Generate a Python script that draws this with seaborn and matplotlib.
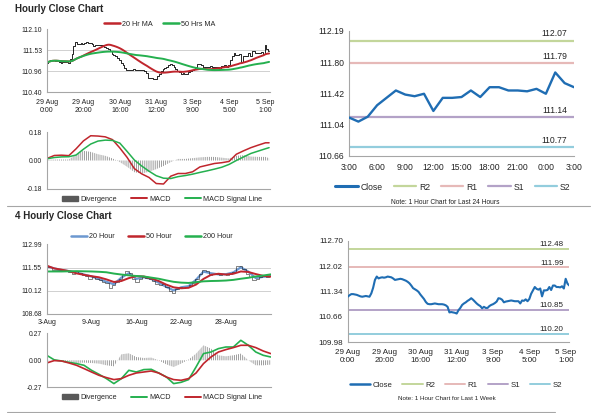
import numpy as np
import pandas as pd
import matplotlib
matplotlib.use("Agg")
import matplotlib.pyplot as plt
import matplotlib.transforms as mtransforms
import seaborn as sns
from matplotlib.lines import Line2D
from matplotlib.patches import Patch
from matplotlib import font_manager

# ---------------- DATA ----------------
# Hourly close, 29 Aug 0:00 -> 5 Sep 3:00 (123 trading hours)
close_1h = [
    111.20, 111.24, 111.27, 111.27, 111.26, 111.25, 111.23, 111.21, 111.20, 111.21,
    111.22, 111.21, 111.20, 111.29, 111.44, 111.65, 111.74, 111.69, 111.71, 111.72,
    111.71, 111.72, 111.74, 111.73, 111.72, 111.69, 111.65, 111.66, 111.67, 111.68,
    111.67, 111.65, 111.63, 111.60, 111.56, 111.50, 111.43, 111.40, 111.37, 111.33,
    111.26, 111.20, 111.14, 111.06, 111.01, 111.00, 111.00, 111.01, 111.02, 111.01,
    111.00, 111.00, 111.00, 110.99, 110.97, 110.93, 110.78, 110.79, 110.78, 110.77,
    110.75, 110.84, 110.90, 110.98, 111.02, 111.05, 111.09, 111.12, 111.16, 111.12,
    111.07, 111.02, 110.98, 110.95, 110.89, 110.93, 110.90, 110.90, 110.95, 110.98,
    111.00, 111.03, 111.07, 111.16, 111.15, 111.12, 111.05, 111.07, 111.08, 111.09,
    111.10, 111.09, 111.08, 111.08, 111.08, 111.02, 111.10, 111.09,
    # last 24 hours (4 Sep 3:00 -> 5 Sep 3:00)
    111.13, 111.08, 111.14, 111.28, 111.37, 111.46, 111.41, 111.39, 111.42, 111.21,
    111.37, 111.37, 111.38, 111.46, 111.38, 111.50, 111.50, 111.46, 111.46, 111.45,
    111.48, 111.42, 111.68, 111.55, 111.50,
]
week_tick_labels = ["29 Aug\n0:00", "29 Aug\n20:00", "30 Aug\n16:00", "31 Aug\n12:00",
                    "3 Sep\n9:00", "4 Sep\n5:00", "5 Sep\n1:00"]
day_tick_labels = ["3:00", "6:00", "9:00", "12:00", "15:00", "18:00", "21:00", "0:00", "3:00"]

# Hourly MACD read every 4 hours
macd_hours = list(range(0, 121, 4)) + [122]
macd_1h = [0.013, 0.032, 0.034, 0.031, 0.075, 0.125, 0.158, 0.156, 0.151, 0.133,
           0.080, 0.020, -0.052, -0.085, -0.108, -0.147, -0.150, -0.100, -0.083, -0.083,
           -0.072, -0.041, -0.030, -0.019, -0.014, -0.006, 0.040, 0.062, 0.082, 0.098,
           0.113, 0.113]
sig_1h = [0.011, 0.019, 0.023, 0.024, 0.035, 0.072, 0.105, 0.124, 0.130, 0.128,
          0.111, 0.058, 0.003, -0.035, -0.068, -0.097, -0.113, -0.115, -0.103, -0.096,
          -0.087, -0.076, -0.066, -0.055, -0.043, -0.025, 0.000, 0.023, 0.045, 0.060,
          0.075, 0.082]
div_1h = [0.004, 0.006, 0.006, 0.006, 0.040, 0.062, 0.055, 0.040, 0.030, 0.013,
          -0.010, -0.040, -0.075, -0.083, -0.072, -0.055, -0.035, -0.010, 0.010, 0.010,
          0.015, 0.020, 0.023, 0.023, 0.018, 0.013, 0.030, 0.034, 0.025, 0.023,
          0.023, 0.015]

# Pivot levels
level_names = ["R2", "R1", "S1", "S2"]
level_colors = ["#c3d69b", "#e6b9b8", "#b3a2c7", "#93cddd"]
levels_24h = [112.07, 111.79, 111.14, 110.77]
levels_week = [112.48, 111.99, 110.85, 110.20]

# y ticks
yt_1h_price = [110.40, 110.96, 111.53, 112.10]
yt_1h_macd = [-0.18, 0.00, 0.18]
yt_24h = [110.66, 111.04, 111.42, 111.80, 112.19]
yt_week = [109.98, 110.66, 111.34, 112.02, 112.70]
yt_4h_price = [108.68, 110.12, 111.55, 112.99]
yt_4h_macd = [-0.27, 0.00, 0.27]

# 4-hourly chart (150 bars)
close_4h = [
    111.67, 111.61, 111.43, 111.37, 111.37, 111.33, 111.31, 111.27, 111.17, 111.31,
    111.23, 111.07, 111.01, 110.87, 110.97, 110.87, 110.76, 110.66, 110.62, 110.30,
    110.46, 110.66, 110.87, 111.17, 111.31, 111.23, 110.87, 110.66, 110.87, 110.97,
    110.91, 110.87, 110.70, 110.56, 110.50, 110.56, 110.36, 110.10, 110.00, 110.22,
    110.36, 110.30, 110.36, 110.46, 110.62, 110.87, 111.17, 111.37, 111.31, 111.11,
    111.17, 111.13, 111.11, 111.17, 111.11, 111.17, 111.27, 111.67, 111.63, 111.47,
    111.17, 110.97, 110.76, 110.87, 110.97, 111.03, 110.97, 111.01,
]
bars5 = list(range(0, 151, 5))
ma20_4h = [111.63, 111.50, 111.40, 111.33, 111.25, 111.12, 111.00, 110.85, 110.67, 110.52,
           110.93, 111.20, 110.85, 110.95, 110.85, 110.62, 110.36, 110.14, 110.33, 110.40,
           110.80, 111.30, 111.20, 111.13, 111.14, 111.25, 111.57, 111.30, 110.90, 110.98, 111.03]
ma50_4h = [111.67, 111.50, 111.42, 111.33, 111.19, 111.10, 111.02, 110.95, 110.82, 110.66,
           110.72, 110.90, 111.02, 111.00, 110.88, 110.72, 110.50, 110.33, 110.27, 110.30,
           110.50, 110.85, 111.10, 111.17, 111.12, 111.17, 111.31, 111.28, 111.15, 111.04, 110.99]
ma200_4h = [111.31, 111.31, 111.31, 111.32, 111.33, 111.32, 111.31, 111.29, 111.26, 111.18,
            111.12, 111.07, 111.03, 111.00, 110.93, 110.86, 110.76, 110.67, 110.62, 110.60,
            110.65, 110.70, 110.72, 110.73, 110.75, 110.79, 110.86, 110.92, 111.00, 111.06, 111.13]
macd_4h = [0.050, 0.005, -0.007, -0.020, -0.033, -0.050, -0.100, -0.140, -0.183, -0.233,
           -0.183, -0.100, -0.117, -0.093, -0.090, -0.127, -0.165, -0.233, -0.220, -0.193,
           -0.067, 0.067, 0.083, 0.117, 0.133, 0.133, 0.200, 0.150, 0.083, 0.050, 0.033]
signal_4h = [-0.027, -0.003, -0.007, -0.027, -0.050, -0.083, -0.117, -0.150, -0.173, -0.193,
             -0.183, -0.150, -0.127, -0.117, -0.107, -0.127, -0.167, -0.193, -0.200, -0.183,
             -0.127, -0.033, 0.033, 0.083, 0.107, 0.127, 0.150, 0.150, 0.127, 0.093, 0.067]
div_4h = [0.005, 0.000, -0.005, -0.010, -0.027, -0.023, -0.027, -0.033, -0.050, -0.060,
          0.060, 0.070, 0.033, 0.023, 0.027, 0.000, -0.040, -0.067, -0.033, 0.007,
          0.067, 0.150, 0.117, 0.050, 0.040, 0.050, 0.067, 0.000, -0.050, -0.050, -0.043]
tick_4h = [0, 30, 60, 90, 120, 150]
tick_4h_labels = ["3-Aug", "9-Aug", "16-Aug", "22-Aug", "28-Aug", ""]

# ---------------- DERIVED ----------------
s1h = pd.Series(close_1h)
hours = np.arange(len(close_1h))
ma20_1h = s1h.rolling(20, min_periods=1).mean()
ma50_1h = s1h.rolling(50, min_periods=1).mean()
last24 = close_1h[-25:]
h24 = np.arange(len(last24))
x4 = np.linspace(0, 150, len(close_4h))

# ---------------- STYLE ----------------
sns.set_style("white")
names = {f.name for f in font_manager.fontManager.ttflist}
NARROW = "Liberation Sans Narrow" if "Liberation Sans Narrow" in names else "Liberation Sans"
plt.rcParams["font.family"] = ["Liberation Sans", "DejaVu Sans"]
plt.rcParams["hatch.linewidth"] = 0.6

W, H = 600, 413
fig = plt.figure(figsize=(6, 4.13), dpi=100)
fig.patch.set_facecolor("white")
AXC = "#a6a6a6"
RED = "#c0262d"
GREEN = "#25b04f"
BLUE4 = "#6c98d0"
CLOSE_BLUE = "#1f6db3"
DIVC = "#8c8c8c"


def add_ax(x0, x1, y0, y1):
    return fig.add_axes([x0 / W, 1 - y1 / H, (x1 - x0) / W, (y1 - y0) / H])


def style(ax, fsy, fsx=None, family=None, xpad=1.5):
    for s in ["top", "right"]:
        ax.spines[s].set_visible(False)
    for s in ["left", "bottom"]:
        ax.spines[s].set_color(AXC)
        ax.spines[s].set_linewidth(0.8)
    ax.tick_params(axis="both", length=2, width=0.6, color=AXC, labelcolor="#222222")
    ax.tick_params(axis="y", labelsize=fsy, pad=1.5)
    ax.tick_params(axis="x", labelsize=fsx if fsx else fsy, pad=xpad)
    ax.set_xlabel("")
    ax.set_ylabel("")
    if family:
        for lab in ax.get_xticklabels() + ax.get_yticklabels():
            lab.set_family(family)
    ax.set_facecolor("white")


def legend_at(handles, labels, cx, cy, fs, family="Liberation Sans", colsp=2.0, hl=2.2):
    fig.legend(handles, labels, loc="center", bbox_to_anchor=(cx / W, 1 - cy / H),
               ncol=len(handles), frameon=False, prop={"family": family, "size": fs},
               handlelength=hl, handletextpad=0.3, columnspacing=colsp, borderpad=0,
               borderaxespad=0)


def inner_grid(ax, ticks):
    for t in ticks[1:-1]:
        ax.axhline(t, color="#c9c9c9", lw=0.6, zorder=0)


# ---------- Panel 1: Hourly close ----------
a1 = add_ax(47, 270, 29, 92.3)
sns.lineplot(x=hours, y=close_1h, ax=a1, color="black", lw=0.6, drawstyle="steps-mid")
sns.lineplot(x=hours, y=ma20_1h, ax=a1, color=RED, lw=1.4)
sns.lineplot(x=hours, y=ma50_1h, ax=a1, color=GREEN, lw=1.4)
a1.set_xlim(0, 122.5)
a1.set_ylim(yt_1h_price[0], yt_1h_price[-1])
a1.set_yticks(yt_1h_price, [f"{v:.2f}" for v in yt_1h_price])
a1.set_xticks(range(0, 121, 20), week_tick_labels)
inner_grid(a1, yt_1h_price)
style(a1, 4.9, 5.0, xpad=2.5)
legend_at([Line2D([], [], color=RED, lw=1.8), Line2D([], [], color=GREEN, lw=1.8)],
          ["20 Hr MA", "50 Hrs MA"], 160, 24, 5.2, colsp=1.4)
fig.text(15 / W, 1 - 9 / H, "Hourly Close Chart", fontsize=7, weight="bold", va="center")

# ---------- Panel 2: Hourly MACD ----------
a2 = add_ax(47, 270, 132.3, 188.7)
a2.fill_between(macd_hours, 0, div_1h, facecolor="none", edgecolor=DIVC, hatch="|" * 8, linewidth=0)
sns.lineplot(x=macd_hours, y=macd_1h, ax=a2, color=RED, lw=1.1)
sns.lineplot(x=macd_hours, y=sig_1h, ax=a2, color=GREEN, lw=1.1)
a2.set_xlim(0, 122.5)
a2.set_ylim(yt_1h_macd[0], yt_1h_macd[-1])
a2.set_yticks(yt_1h_macd, [f"{v:.2f}" for v in yt_1h_macd])
a2.set_xticks([])
style(a2, 4.9)
legend_at([Patch(color="#595959"), Line2D([], [], color=RED, lw=1.4), Line2D([], [], color=GREEN, lw=1.4)],
          ["Divergence", "MACD", "MACD Signal Line"], 162, 199.3, 5.2, colsp=2.0)

# ---------- Panel 3: last 24 hours ----------
a3 = add_ax(349, 574, 30.7, 156)
for lv, c in zip(levels_24h, level_colors):
    a3.axhline(lv, color=c, lw=1.6, zorder=1)
sns.lineplot(x=h24, y=last24, ax=a3, color=CLOSE_BLUE, lw=1.7, zorder=3)
a3.set_xlim(0, 24)
a3.set_ylim(yt_24h[0], yt_24h[-1])
a3.set_yticks(yt_24h, [f"{v:.2f}" for v in yt_24h])
a3.set_xticks(range(0, 25, 3), day_tick_labels)
style(a3, 6.2, 6.2, family=NARROW, xpad=3)
tr3 = mtransforms.blended_transform_factory(a3.transAxes, a3.transData)
for lv in levels_24h:
    a3.annotate(f"{lv:.2f}", (0.97, lv), xycoords=tr3, xytext=(0, 1.5), textcoords="offset points",
                ha="right", va="bottom", fontsize=6.2, family=NARROW, color="#222222")
legend_at([Line2D([], [], color=CLOSE_BLUE, lw=2.2)] + [Line2D([], [], color=c, lw=1.6) for c in level_colors],
          ["Close"] + level_names, 453, 187, 6.2, family=NARROW, colsp=1.3, hl=2.6)
fig.text(445 / W, 1 - 202 / H, "Note: 1 Hour Chart for Last 24 Hours", fontsize=4.8,
         family=NARROW, ha="center", va="center", color="#222222")

# ---------- Panel 4: 4-hourly close ----------
a4 = add_ax(46.7, 270.7, 244.3, 314)
sns.lineplot(x=bars5, y=ma20_4h, ax=a4, color=BLUE4, lw=1.6)
sns.lineplot(x=x4, y=close_4h, ax=a4, color="black", lw=0.4, alpha=0.85, drawstyle="steps-mid")
sns.lineplot(x=bars5, y=ma50_4h, ax=a4, color=RED, lw=1.4)
sns.lineplot(x=bars5, y=ma200_4h, ax=a4, color=GREEN, lw=1.4)
a4.set_xlim(0, 150)
a4.set_ylim(yt_4h_price[0], yt_4h_price[-1])
a4.set_yticks(yt_4h_price, [f"{v:.2f}" for v in yt_4h_price])
a4.set_xticks(tick_4h, tick_4h_labels)
inner_grid(a4, yt_4h_price)
style(a4, 4.9, 5.0, xpad=1.5)
legend_at([Line2D([], [], color=BLUE4, lw=1.8), Line2D([], [], color=RED, lw=1.8),
           Line2D([], [], color=GREEN, lw=1.8)],
          ["20 Hour", "50 Hour", "200 Hour"], 152, 236.7, 5.2, colsp=1.8)
fig.text(15 / W, 1 - 216 / H, "4 Hourly Close Chart", fontsize=7, weight="bold", va="center")

# ---------- Panel 5: 4-hourly MACD ----------
a5 = add_ax(46.7, 270.7, 333.3, 387.3)
a5.fill_between(bars5, 0, div_4h, facecolor="none", edgecolor=DIVC, hatch="|" * 8, linewidth=0)
sns.lineplot(x=bars5, y=macd_4h, ax=a5, color=GREEN, lw=1.2)
sns.lineplot(x=bars5, y=signal_4h, ax=a5, color=RED, lw=1.2)
a5.set_xlim(0, 150)
a5.set_ylim(yt_4h_macd[0], yt_4h_macd[-1])
a5.set_yticks(yt_4h_macd, [f"{v:.2f}" for v in yt_4h_macd])
a5.set_xticks([])
style(a5, 4.9)
legend_at([Patch(color="#595959"), Line2D([], [], color=GREEN, lw=1.4), Line2D([], [], color=RED, lw=1.4)],
          ["Divergence", "MACD", "MACD Signal Line"], 162, 397.7, 5.2, colsp=2.0)

# ---------- Panel 6: last week hourly ----------
a6 = add_ax(347.7, 569.3, 240.7, 342.3)
for lv, c in zip(levels_week, level_colors):
    a6.axhline(lv, color=c, lw=1.4, zorder=1)
sns.lineplot(x=hours, y=close_1h, ax=a6, color=CLOSE_BLUE, lw=1.5, zorder=3)
a6.set_xlim(0, 122)
a6.set_ylim(yt_week[0], yt_week[-1])
a6.set_yticks(yt_week, [f"{v:.2f}" for v in yt_week])
a6.set_xticks(range(0, 121, 20), week_tick_labels)
style(a6, 5.8, 5.8, xpad=2.5)
tr6 = mtransforms.blended_transform_factory(a6.transAxes, a6.transData)
for lv in levels_week:
    a6.annotate(f"{lv:.2f}", (0.975, lv), xycoords=tr6, xytext=(0, 0.5), textcoords="offset points",
                ha="right", va="bottom", fontsize=5.8, color="#222222")
legend_at([Line2D([], [], color=CLOSE_BLUE, lw=1.8)] + [Line2D([], [], color=c, lw=1.4) for c in level_colors],
          ["Close"] + level_names, 456, 385, 5.6, colsp=1.3, hl=2.6)
fig.text(447 / W, 1 - 398 / H, "Note: 1 Hour Chart for Last 1 Week", fontsize=4.5,
         ha="center", va="center", color="#222222")

# ---------- Dividers ----------
fig.add_artist(Line2D([7 / W, 590 / W], [1 - 206 / H, 1 - 206 / H], color="#a6a6a6", lw=0.8))
fig.add_artist(Line2D([7 / W, 555 / W], [1 - 411.5 / H, 1 - 411.5 / H], color="#a6a6a6", lw=0.8))

fig.savefig("out.png", dpi=100, facecolor="white")
